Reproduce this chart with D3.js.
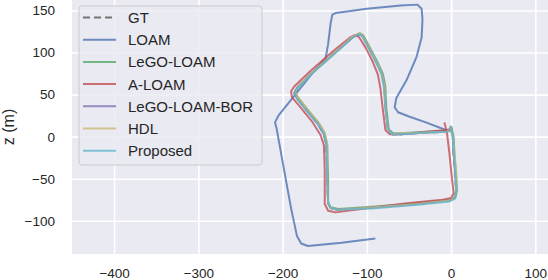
<!DOCTYPE html>
<html>
<head>
<meta charset="utf-8">
<script src="https://cdn.jsdelivr.net/npm/d3@7"></script>
<style>
  body { margin: 0; background: #fff; }
  text { font-family: "Liberation Sans", Arial, sans-serif; fill: #262626; }
</style>
</head>
<body>
<div id="chart"></div>
<script>
// series names + colours (legend order)
var seriesNames = ['GT', 'LOAM', 'LeGO-LOAM', 'A-LOAM', 'LeGO-LOAM-BOR', 'HDL', 'Proposed'];
var seriesColors = ['#555555', '#4c72b0', '#55a868', '#c44e52', '#8172b2', '#ccb974', '#64b5cd'];

var xTicks = [-400, -300, -200, -100, 0, 100];
var yTicks = [-100, -50, 0, 50, 100, 150];

// trajectories, [x, z] in metres
var gt = [[0,12],[2,0],[3,-20],[5,-45],[6,-64],[4,-73],[-2,-76],[-40,-80],[-90,-84],[-134,-87],[-143,-85],[-146,-79],
  [-147,-50],[-148,-10],[-151,3],[-158,15],[-171,31],[-183,46],[-186,52],[-183,58],[-165,76],[-140,98],[-117,118],
  [-109,122],[-105,120],[-98,107],[-89,90],[-82,75],[-79,60],[-78,35],[-75,9],[-70,3],[-60,3],[-30,5],[-5,6],[0,8]];

var loam = [[-4,7],[-30,17],[-50,24],[-63,29],[-67,35],[-65,46],[-53,67],[-41,95],[-35,118],[-34,140],[-35,152],
  [-40,157],[-60,156],[-100,152],[-137,147],[-141,145],[-143,135],[-146,110],[-149,93],[-165,75],[-185,50],
  [-205,25],[-209,17],[-207,9],[-200,-30],[-190,-85],[-183,-118],[-178,-127],[-170,-130],[-130,-126],[-90,-121]];

var legoLoam = [[0,12],[3,0],[4,-20],[6,-45],[7,-64],[5,-73],[-2,-75],[-40,-79],[-90,-83],[-134,-86],[-143,-84],
  [-146,-78],[-146,-50],[-147,-10],[-150,4],[-157,16],[-170,32],[-182,47],[-185,53],[-182,59],[-164,77],
  [-139,99],[-116,119],[-108,123],[-104,120],[-97,107],[-88,90],[-81,75],[-78,60],[-77,35],[-74,9],[-69,4],
  [-60,4],[-30,6],[-4,7],[1,8]];

var aLoam = [[-8,17],[-5,5],[-2,-20],[1,-50],[3,-67],[0,-73],[-10,-75],[-50,-79],[-100,-85],[-137,-90],[-146,-88],
  [-150,-80],[-150,-40],[-151,-10],[-155,2],[-165,18],[-179,35],[-189,47],[-190,54],[-186,60],[-166,79],
  [-141,101],[-120,118],[-114,121],[-109,118],[-101,105],[-93,89],[-87,74],[-84,58],[-81,32],[-78,8],[-73,3],
  [-60,3],[-30,6],[-5,8],[0,9]];

var legoLoamBor = [[-1,12],[2,0],[3,-20],[5,-45],[6,-64],[4,-73],[-2,-76],[-40,-80],[-90,-84],[-134,-87],
  [-143,-85],[-146,-79],[-147,-50],[-148,-10],[-151,3],[-158,15],[-171,31],[-183,46],[-186,52],[-183,58],
  [-165,76],[-140,98],[-117,118],[-109,122],[-105,120],[-98,107],[-89,90],[-82,75],[-79,60],[-78,35],[-75,9],
  [-70,3],[-60,3],[-30,5],[-5,6],[0,8]];

var hdl = [[-1,13],[2,0],[4,-20],[6,-45],[6,-64],[4,-73],[-2,-76],[-40,-80],[-90,-84],[-134,-87],[-143,-85],
  [-146,-79],[-147,-50],[-147,-10],[-150,4],[-157,16],[-170,32],[-182,47],[-185,53],[-182,59],[-164,77],
  [-139,99],[-117,119],[-109,123],[-105,120],[-98,107],[-89,90],[-82,75],[-79,60],[-78,35],[-75,9],[-70,3],
  [-60,4],[-30,5],[-5,6],[0,8]];

var proposed = [[-1,13],[2,0],[3,-20],[5,-45],[6,-64],[4,-74],[-2,-77],[-40,-81],[-90,-85],[-134,-87],
  [-143,-85],[-146,-79],[-147,-50],[-148,-10],[-151,3],[-158,15],[-171,30],[-183,45],[-186,51],[-183,57],
  [-165,75],[-140,97],[-118,117],[-110,122],[-106,120],[-99,107],[-90,90],[-83,75],[-80,60],[-78,35],
  [-75,9],[-70,3],[-60,3],[-30,5],[-5,6],[0,8]];

var allSeries = [gt, loam, legoLoam, aLoam, legoLoamBor, hdl, proposed];

var width = 548, height = 280;
var plot = { left: 72, right: 548, top: 0, bottom: 254 };

var svg = d3.select('#chart').append('svg')
    .attr('width', width)
    .attr('height', height);

var x = d3.scaleLinear().domain([-450, 115]).range([plot.left, plot.right]);
var y = d3.scaleLinear().domain([-139.5, 162.5]).range([plot.bottom, plot.top]);

svg.append('rect')
    .attr('x', plot.left).attr('y', plot.top)
    .attr('width', plot.right - plot.left).attr('height', plot.bottom - plot.top)
    .attr('fill', '#eaeaf2');

var fmt = function(d) { return d < 0 ? '\u2212' + Math.abs(d) : String(d); };

// grid + tick labels via axes
var gx = svg.append('g')
    .attr('transform', 'translate(0,' + plot.bottom + ')')
    .call(d3.axisBottom(x).tickValues(xTicks).tickSize(-(plot.bottom - plot.top)).tickPadding(14).tickFormat(fmt));
var gy = svg.append('g')
    .attr('transform', 'translate(' + plot.left + ',0)')
    .call(d3.axisLeft(y).tickValues(yTicks).tickSize(-(plot.right - plot.left)).tickPadding(17).tickFormat(fmt));

[gx, gy].forEach(function(g) {
  g.select('.domain').remove();
  g.selectAll('.tick line').attr('stroke', '#ffffff').attr('stroke-width', 1.6);
  g.selectAll('.tick text').attr('fill', '#262626').style('font-size', '13.5px')
    .style('font-family', '"Liberation Sans", Arial, sans-serif');
});

svg.append('text')
    .attr('transform', 'translate(14,127) rotate(-90)')
    .attr('text-anchor', 'middle')
    .style('font-size', '16px')
    .text('z (m)');

var line = d3.line().x(function(d) { return x(d[0]); }).y(function(d) { return y(d[1]); });

svg.append('clipPath').attr('id', 'clip').append('rect')
    .attr('x', plot.left).attr('y', plot.top)
    .attr('width', plot.right - plot.left).attr('height', plot.bottom - plot.top);

var lines = svg.append('g').attr('clip-path', 'url(#clip)');
allSeries.forEach(function(s, i) {
  lines.append('path')
      .attr('d', line(s))
      .attr('fill', 'none')
      .attr('stroke', seriesColors[i])
      .attr('stroke-width', 2)
      .attr('stroke-opacity', 0.8)
      .attr('stroke-linejoin', 'round')
      .attr('stroke-dasharray', i === 0 ? '7,4' : null);
});

// legend
var legend = svg.append('g');
legend.append('rect')
    .attr('x', 79).attr('y', 6).attr('width', 183).attr('height', 159).attr('rx', 3)
    .attr('fill', '#eaeaf2').attr('fill-opacity', 0.85)
    .attr('stroke', '#cccccc').attr('stroke-width', 1);

seriesNames.forEach(function(name, i) {
  var ly = 17.5 + i * 22.2;
  legend.append('line')
      .attr('x1', 83).attr('x2', 116).attr('y1', ly).attr('y2', ly)
      .attr('stroke', seriesColors[i])
      .attr('stroke-width', 2)
      .attr('stroke-opacity', 0.8)
      .attr('stroke-dasharray', i === 0 ? '7,4' : null);
  legend.append('text')
      .attr('x', 128).attr('y', ly)
      .attr('dy', '0.36em')
      .style('font-size', '15px')
      .text(name);
});
</script>
</body>
</html>
